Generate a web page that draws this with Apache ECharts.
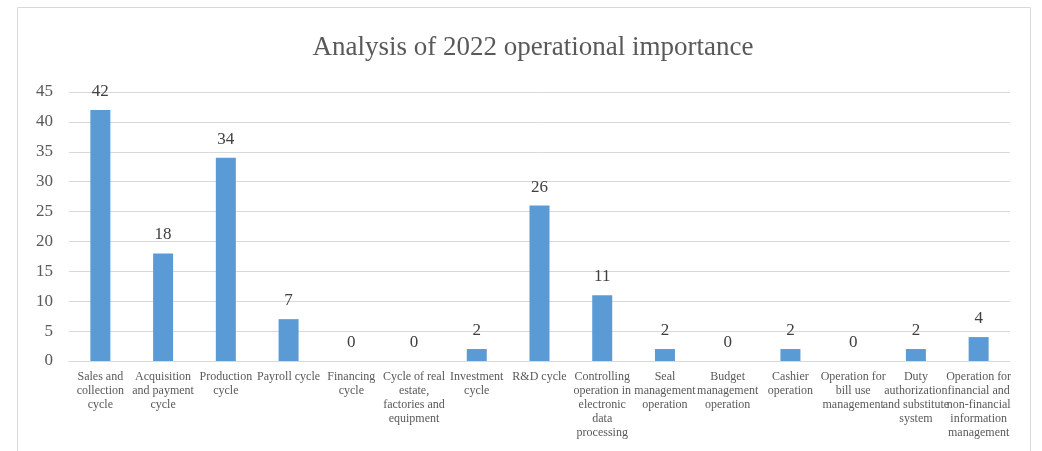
<!DOCTYPE html>
<html><head><meta charset="utf-8">
<script src="https://cdn.jsdelivr.net/npm/echarts@6/dist/echarts.min.js"></script>
<style>html,body{margin:0;padding:0;background:#fff}#c{width:1042px;height:451px}</style>
</head><body><div id="c"></div>
<script>
const title = "Analysis of 2022 operational importance";
const categories = [
  "Sales and\ncollection\ncycle",
  "Acquisition\nand payment\ncycle",
  "Production\ncycle",
  "Payroll cycle",
  "Financing\ncycle",
  "Cycle of real\nestate,\nfactories and\nequipment",
  "Investment\ncycle",
  "R&D cycle",
  "Controlling\noperation in\nelectronic\ndata\nprocessing",
  "Seal\nmanagement\noperation",
  "Budget\nmanagement\noperation",
  "Cashier\noperation",
  "Operation for\nbill use\nmanagement",
  "Duty\nauthorization\nand substitute\nsystem",
  "Operation for\nfinancial and\nnon-financial\ninformation\nmanagement"
];
const values = [42, 18, 34, 7, 0, 0, 2, 26, 11, 2, 0, 2, 0, 2, 4];
const yTicks = [0, 5, 10, 15, 20, 25, 30, 35, 40, 45];

const chart = echarts.init(document.getElementById('c'), null, {renderer: 'canvas'});
const font = '"Liberation Serif", "Times New Roman", serif';
chart.setOption({
  animation: false,
  backgroundColor: '#fff',
  graphic: [{
    type: 'rect', shape: {x: 17.5, y: 7.5, width: 1013, height: 460},
    style: {fill: 'none', stroke: '#d9d9d9', lineWidth: 1}, silent: true, z: -1
  }],
  title: {
    text: title, left: 528, top: 29, textAlign: 'center',
    textStyle: {fontFamily: font, fontSize: 27, fontWeight: 'normal', color: '#595959'}
  },
  grid: {left: 69, right: 32, top: 92, bottom: 90, containLabel: false},
  xAxis: {
    type: 'category', data: categories,
    axisLine: {lineStyle: {color: '#d9d9d9', width: 1}},
    axisTick: {show: false},
    axisLabel: {interval: 0, fontFamily: font, fontSize: 12, lineHeight: 14, color: '#595959', margin: 9}
  },
  yAxis: {
    type: 'value', min: yTicks[0], max: yTicks[yTicks.length - 1], interval: 5,
    axisLine: {show: false}, axisTick: {show: false},
    splitLine: {lineStyle: {color: '#d9d9d9', width: 1}},
    axisLabel: {fontFamily: font, fontSize: 17, color: '#595959', margin: 16}
  },
  series: [{
    type: 'bar', data: values, barWidth: 20,
    itemStyle: {color: '#5b9bd5'},
    label: {show: true, position: 'top', distance: 10, fontFamily: font, fontSize: 17, color: '#404040'}
  }]
});
</script></body></html>
